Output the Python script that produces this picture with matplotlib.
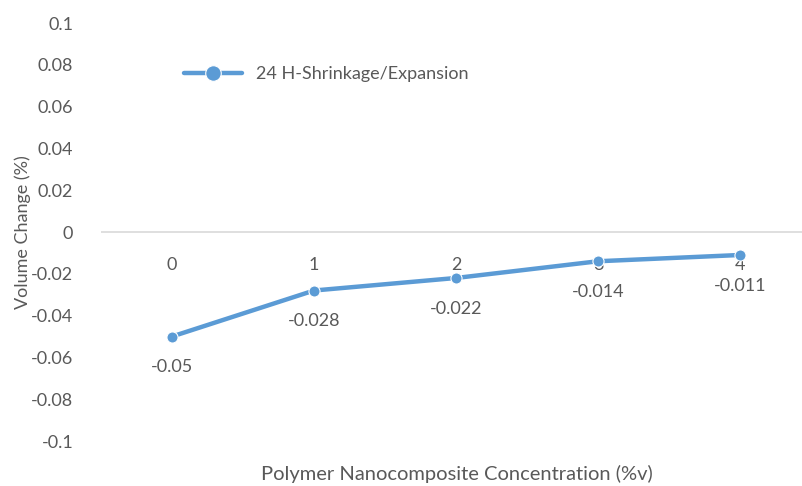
import matplotlib.pyplot as plt

plt.rcParams['font.family'] = ['Lato', 'DejaVu Sans']

concentration = [0, 1, 2, 3, 4]
volume_change = [-0.05, -0.028, -0.022, -0.014, -0.011]
value_labels = ['-0.05', '-0.028', '-0.022', '-0.014', '-0.011']
y_ticks = [0.1, 0.08, 0.06, 0.04, 0.02, 0, -0.02, -0.04, -0.06, -0.08, -0.1]

blue = '#5B9BD5'
grey = '#595959'

fig = plt.figure(figsize=(8.03, 4.86), dpi=100)
ax = fig.add_axes([101 / 803, 45 / 486, 702 / 803, 418 / 486])

ax.plot(concentration, volume_change, color=blue, lw=3.2, marker='o', ms=8,
        mfc=blue, mec='white', mew=0.8, solid_capstyle='round',
        label='24 H-Shrinkage/Expansion', zorder=3)

ax.axhline(0, color='#d9d9d9', lw=1.2, zorder=1)
ax.set_xlim(-0.5, 4.444)
ax.set_ylim(-0.1, 0.1)
ax.set_yticks(y_ticks)
ax.set_yticklabels([f'{v:g}' for v in y_ticks])
ax.set_xticks([])
ax.tick_params(axis='y', length=0, pad=20, labelsize=13, labelcolor=grey)
for s in ax.spines.values():
    s.set_visible(False)

# category labels sit under the zero line
for x in concentration:
    ax.annotate(str(x), (x, 0), xytext=(0, -23.5), textcoords='offset points',
                ha='center', va='center', fontsize=13, color=grey, zorder=2)

for x, y, lab in zip(concentration, volume_change, value_labels):
    ax.annotate(lab, (x, y), xytext=(0, -22), textcoords='offset points',
                ha='center', va='center', fontsize=13, color=grey, zorder=4)

ax.set_ylabel('Volume Change (%)', fontsize=13, color=grey, labelpad=0)
fig.text(457 / 803, 1 - 474 / 486, 'Polymer Nanocomposite Concentration (%v)',
         ha='center', va='center', fontsize=14.5, color=grey)

leg = ax.legend(loc='upper left', bbox_to_anchor=(0.095, 0.935), frameon=False,
                fontsize=13, handlelength=3.2, markerscale=1.4, labelcolor=grey)

fig.savefig('out.png', dpi=100)
